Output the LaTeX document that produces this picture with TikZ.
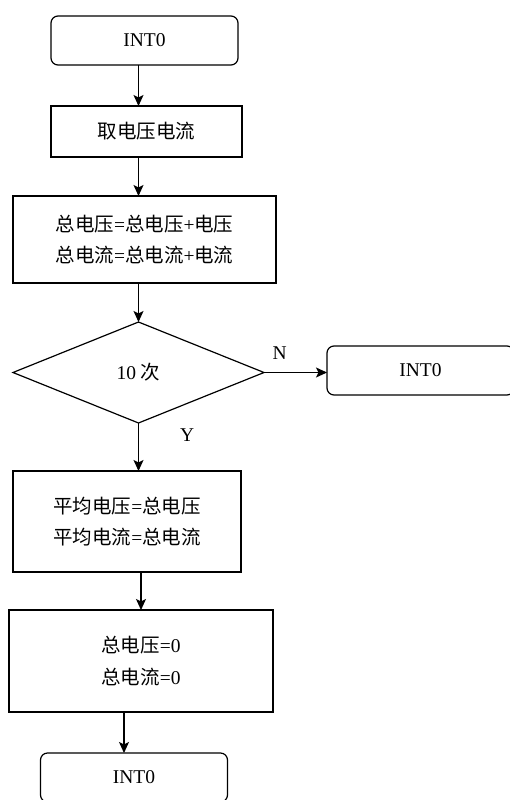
\documentclass[tikz,border=0pt]{standalone}
\usepackage{fontspec}
\setmainfont{Liberation Serif}
\newfontfamily\cjk{Noto Sans CJK SC}
\newcommand{\zh}[1]{{\cjk #1}}
\usepackage{tikz}
\usetikzlibrary{arrows.meta,positioning,shapes.geometric}

\begin{document}
\begin{tikzpicture}[
  font=\fontsize{19.5}{31.5}\selectfont, node distance=40pt and 63pt,
  line width=1.2pt,
  box/.style={draw, align=center, inner sep=0pt, outer sep=0pt, minimum height=51pt},
  term/.style={box, rounded corners=7pt, minimum width=187pt, minimum height=49pt},
  cond/.style={draw, diamond, inner sep=0pt, outer sep=0pt, minimum width=251pt, minimum height=101pt},
  lab/.style={inner sep=0pt},
  >={Stealth[length=11pt, width=10pt, inset=2.5pt]}]
\clip (0,0) rectangle (510pt,-800pt);
\node[term] (init) at (144.5pt,-40.5pt) {INT0};
\node[box, minimum width=191pt, below=41pt of init, xshift=2pt] (read) {\zh{取电压电流}};
\node[box, minimum width=263pt, minimum height=87pt, below=39pt of read, xshift=-2pt] (sum)
  {\zh{总电压}=\zh{总电压}+\zh{电压}\\\zh{总电流}=\zh{总电流}+\zh{电流}};
\node[cond, below=39pt of sum, xshift=-6pt] (dec) {10 \zh{次}};
\node[term, right=of dec, yshift=2pt] (ret) {INT0};
\node[box, minimum width=228pt, minimum height=101pt, below=48pt of dec, xshift=-11.5pt] (avg)
  {\zh{平均电压}=\zh{总电压}\\\zh{平均电流}=\zh{总电流}};
\node[box, minimum width=264pt, minimum height=102pt, below=38pt of avg, xshift=14pt] (clr)
  {\zh{总电压}=0\\\zh{总电流}=0};
\node[term, below=41pt of clr, xshift=-7pt] (done) {INT0};
\draw[->] (init.south -| dec) -- (read.north -| dec);
\draw[->] (read.south -| dec) -- (sum.north -| dec);
\draw[->] (sum.south -| dec) -- (dec.north);
\draw[->] (dec.east) -- node[lab, above=12pt, pos=0.25] (n) {N} (ret.west |- dec.east);
\draw[->] (dec.south) -- node[lab, right=41pt, pos=0.25] (y) {Y} (avg.north -| dec);
\draw[->] (avg.south -| clr) -- (clr.north);
\draw[->] ([xshift=-10pt]done.north |- clr.south) -- ([xshift=-10pt]done.north);
\end{tikzpicture}
\end{document}
